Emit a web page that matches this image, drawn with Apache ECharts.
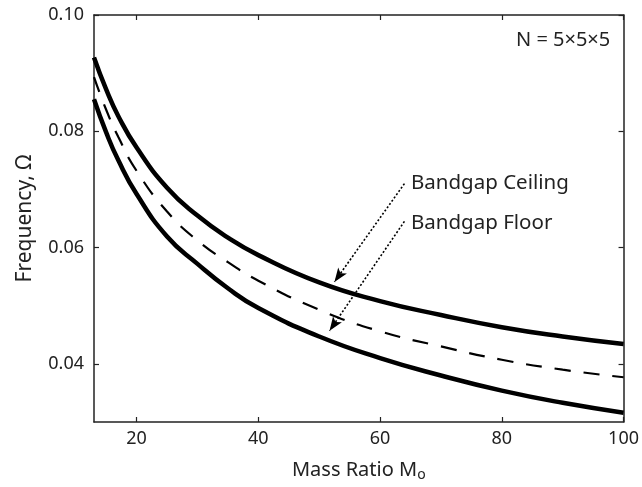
<!DOCTYPE html>
<html>
<head>
<meta charset="utf-8">
<script src="https://cdn.jsdelivr.net/npm/echarts@6/dist/echarts.min.js"></script>
<style>html,body{margin:0;padding:0;background:#fff;}#c{width:642px;height:487px;}</style>
</head>
<body>
<div id="c"></div>
<script>
const massRatio = [13, 15, 17, 20, 25, 30, 35, 40, 50, 60, 70, 80, 90, 100];
const ceiling   = [0.0927, 0.0872, 0.0826, 0.0772, 0.0703, 0.0655, 0.0617, 0.0587, 0.0540, 0.0508, 0.0484, 0.0463, 0.0447, 0.0434];
const midline   = [0.0893, 0.0837, 0.0790, 0.0732, 0.0662, 0.0612, 0.0575, 0.0543, 0.0493, 0.0456, 0.0430, 0.0407, 0.0390, 0.0377];
const floorVals = [0.0855, 0.0798, 0.0750, 0.0692, 0.0619, 0.0572, 0.0530, 0.0496, 0.0447, 0.0410, 0.0380, 0.0354, 0.0333, 0.0316];
const xTicks = [20, 40, 60, 80, 100];
const yTicks = [0.04, 0.06, 0.08, 0.10];
const xTitle = 'Mass Ratio M';
const yTitle = 'Frequency, Ω';
const noteText = 'N = 5×5×5';
const ceilLabel = 'Bandgap Ceiling';
const floorLabel = 'Bandgap Floor';

const FONT = 'Noto Sans';
const pair = (ys) => massRatio.map((x, i) => [x, ys[i]]);
const axisLine = { show: true, lineStyle: { color: '#222', width: 1.5 } };
const tick = (vals) => ({ show: true, inside: true, length: 5, customValues: vals, lineStyle: { color: '#222', width: 1.2 } });

const chart = echarts.init(document.getElementById('c'), null, { renderer: 'canvas' });
chart.setOption({
  animation: false,
  backgroundColor: '#fff',
  grid: { left: 94, right: 17, top: 15, bottom: 62, containLabel: false },
  xAxis: [
    { type: 'value', min: 13, max: 100, position: 'bottom',
      axisLine, axisTick: tick(xTicks), splitLine: { show: false },
      axisLabel: { customValues: xTicks, color: '#222', fontFamily: FONT, fontSize: 18, margin: 8 },
      name: xTitle + '{s|o}', nameLocation: 'middle', nameGap: 36,
      nameTextStyle: { color: '#222', fontFamily: FONT, fontSize: 20,
        rich: { s: { fontSize: 14, fontFamily: FONT, color: '#222', padding: [10, 0, 0, 0] } } } },
    { type: 'value', min: 13, max: 100, position: 'top',
      axisLine, axisTick: tick(xTicks), axisLabel: { show: false }, splitLine: { show: false } }
  ],
  yAxis: [
    { type: 'value', min: 0.03, max: 0.10, position: 'left',
      axisLine, axisTick: tick(yTicks), splitLine: { show: false },
      axisLabel: { customValues: yTicks, color: '#222', fontFamily: FONT, fontSize: 18, margin: 10,
        formatter: (v) => v.toFixed(2) },
      name: yTitle, nameLocation: 'middle', nameGap: 58, nameRotate: 90,
      nameTextStyle: { color: '#222', fontFamily: FONT, fontSize: 21 } },
    { type: 'value', min: 0.03, max: 0.10, position: 'right',
      axisLine, axisTick: tick(yTicks), axisLabel: { show: false }, splitLine: { show: false } }
  ],
  series: [
    { type: 'line', data: pair(ceiling), smooth: true, symbol: 'none',
      lineStyle: { color: '#000', width: 4.5 },
      markLine: { silent: true, symbol: ['none', 'arrow'], symbolSize: [8, 14],
        lineStyle: { color: '#000', type: [2, 2], width: 1.6 }, label: { show: false },
        data: [
          [{ coord: [64.0, 0.0710] }, { coord: [52.5, 0.0541] }],
          [{ coord: [64.0, 0.0645] }, { coord: [51.7, 0.0457] }]
        ] } },
    { type: 'line', data: pair(midline), smooth: true, symbol: 'none',
      lineStyle: { color: '#000', width: 2.2, type: [16, 13] } },
    { type: 'line', data: pair(floorVals), smooth: true, symbol: 'none',
      lineStyle: { color: '#000', width: 4.5 } }
  ],
  graphic: [
    { type: 'text', left: 411, top: 173, style: { text: ceilLabel, fill: '#222', font: '20.5px "Noto Sans"' } },
    { type: 'text', left: 411, top: 213, style: { text: floorLabel, fill: '#222', font: '20.5px "Noto Sans"' } },
    { type: 'text', left: 516, top: 30, style: { text: noteText, fill: '#222', font: '20px "Noto Sans"' } }
  ]
});
</script>
</body>
</html>
